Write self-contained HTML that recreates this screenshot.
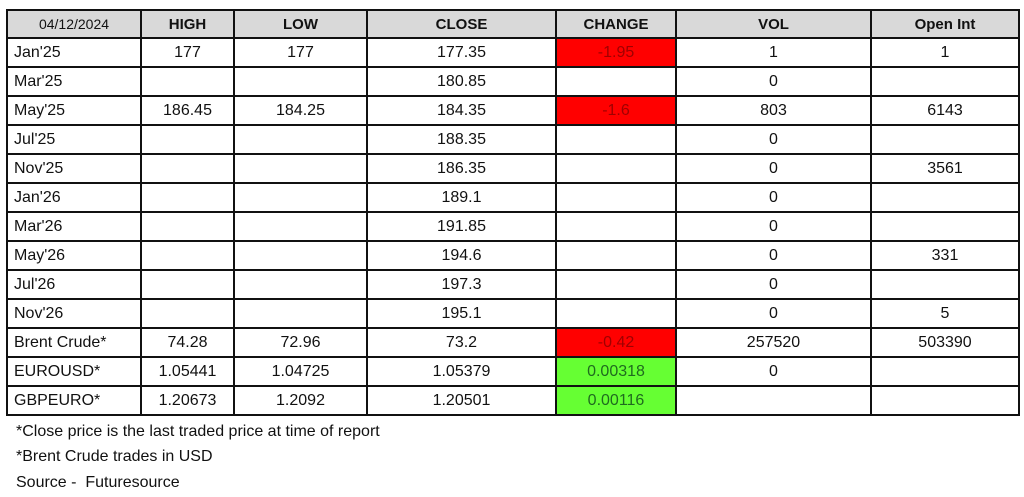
<!DOCTYPE html>
<html><head><style>
body{margin:0;width:1024px;height:497px;background:#fff;position:relative;overflow:hidden;font-family:"Liberation Sans",Arial,sans-serif;}
table{position:absolute;left:6px;top:9px;border-collapse:collapse;table-layout:fixed;}
td{border:2px solid #111;height:27px;padding:0;text-align:center;font-size:16px;color:#111;white-space:nowrap;}
tr.h td{background:#d9d9d9;font-weight:bold;font-size:15px;height:26px;}
tr.h td.d{font-weight:normal;font-size:14px;}
td.l{text-align:left;padding-left:6px;}
td.r{background:#ff0000;color:#a00000;}
td.g{background:#66ff33;color:#1f6b1f;}
.f{position:absolute;left:16px;font-size:16px;color:#111;}
</style></head><body>
<table>
<colgroup><col style="width:134px"><col style="width:93px"><col style="width:133px"><col style="width:189px"><col style="width:120px"><col style="width:195px"><col style="width:148px"></colgroup>
<tr class="h"><td class="d">04/12/2024</td><td>HIGH</td><td>LOW</td><td>CLOSE</td><td>CHANGE</td><td>VOL</td><td>Open Int</td></tr>
<tr><td class="l">Jan'25</td><td>177</td><td>177</td><td>177.35</td><td class="r">-1.95</td><td>1</td><td>1</td></tr>
<tr><td class="l">Mar'25</td><td></td><td></td><td>180.85</td><td></td><td>0</td><td></td></tr>
<tr><td class="l">May'25</td><td>186.45</td><td>184.25</td><td>184.35</td><td class="r">-1.6</td><td>803</td><td>6143</td></tr>
<tr><td class="l">Jul'25</td><td></td><td></td><td>188.35</td><td></td><td>0</td><td></td></tr>
<tr><td class="l">Nov'25</td><td></td><td></td><td>186.35</td><td></td><td>0</td><td>3561</td></tr>
<tr><td class="l">Jan'26</td><td></td><td></td><td>189.1</td><td></td><td>0</td><td></td></tr>
<tr><td class="l">Mar'26</td><td></td><td></td><td>191.85</td><td></td><td>0</td><td></td></tr>
<tr><td class="l">May'26</td><td></td><td></td><td>194.6</td><td></td><td>0</td><td>331</td></tr>
<tr><td class="l">Jul'26</td><td></td><td></td><td>197.3</td><td></td><td>0</td><td></td></tr>
<tr><td class="l">Nov'26</td><td></td><td></td><td>195.1</td><td></td><td>0</td><td>5</td></tr>
<tr><td class="l">Brent Crude*</td><td>74.28</td><td>72.96</td><td>73.2</td><td class="r">-0.42</td><td>257520</td><td>503390</td></tr>
<tr><td class="l">EUROUSD*</td><td>1.05441</td><td>1.04725</td><td>1.05379</td><td class="g">0.00318</td><td>0</td><td></td></tr>
<tr><td class="l">GBPEURO*</td><td>1.20673</td><td>1.2092</td><td>1.20501</td><td class="g">0.00116</td><td></td><td></td></tr>
</table>
<div class="f" style="top:423px">*Close price is the last traded price at time of report</div>
<div class="f" style="top:448px">*Brent Crude trades in USD</div>
<div class="f" style="top:474px">Source -&nbsp; Futuresource</div>
</body></html>
